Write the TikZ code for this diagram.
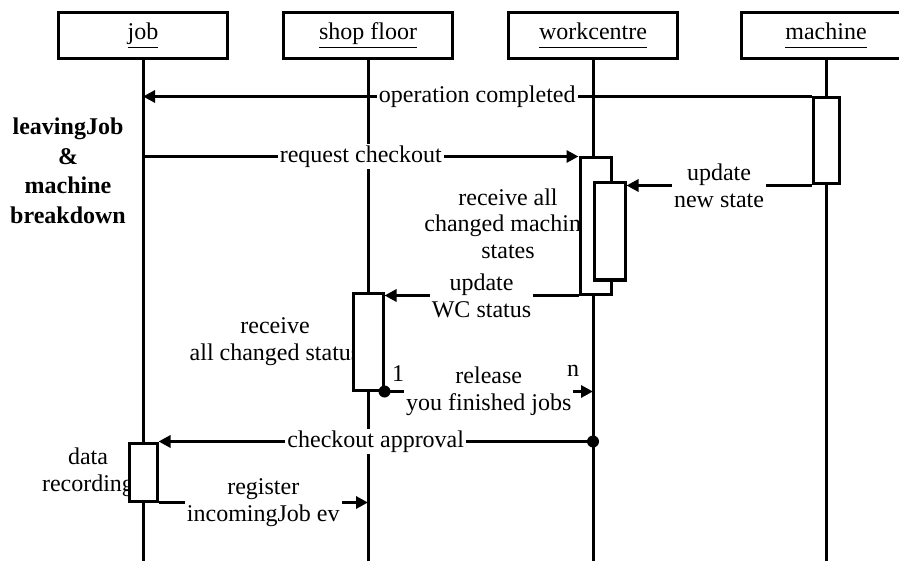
\documentclass[tikz,border=0pt]{standalone}
\usepackage{fontspec}
\setmainfont{Liberation Serif}
\usetikzlibrary{arrows.meta,positioning}
\newcommand{\objname}[1]{\underline{#1\vphantom{jpf}}}

\begin{document}
\begin{tikzpicture}[x=0.5pt,y=-0.5pt,
    obj/.style={draw,line width=1.5pt,minimum width=84.5pt,minimum height=23pt,
                font=\fontsize{12}{14}\selectfont},
    life/.style={line width=1.5pt},
    act/.style={draw,fill=white,line width=1.5pt,inner sep=0pt},
    msg/.style={line width=1.5pt,-{Triangle[length=6pt,width=6pt]}},
    lbl/.style={fill=white,inner sep=1pt,align=center,
                font=\fontsize{12}{13.5}\selectfont},
    txt/.style={inner sep=0pt,align=center,font=\fontsize{12}{13.3}\selectfont},
    dot/.style={circle,fill,inner sep=0pt,minimum size=6pt}
  ]
    \clip (0,0) rectangle (899,561);
    \fill[white] (0,0) rectangle (899,561);
    \coordinate (bottom) at (0,561);
    % objects and lifelines
    \node[obj] (job)  at (143,36) {\objname{job}};
    \node[obj] (shop) at (368,36) {\objname{shop floor}};
    \node[obj] (wc)   at (593,36) {\objname{workcentre}};
    \node[obj] (mach) at (826,36) {\objname{machine}};
    \foreach \o in {job,shop,wc,mach}
      \draw[life] (\o.south) -- (\o.south |- bottom);
    % notes
    \node[txt,font=\fontsize{12}{14.75}\selectfont\bfseries] (scen) at (68,171)
      {leavingJob\\\&\\machine\\breakdown};
    \node[txt] (rcvm) at (508,223.5) {receive all\\changed machine\\states};
    \node[txt,font=\fontsize{12}{13.5}\selectfont] (rcvs) at (275,341.5)
      {receive\\all changed status};
    \node[txt,font=\fontsize{12}{13.5}\selectfont] (drec) at (88,472.5)
      {data\\recording};
    % activations
    \node[act,minimum width=13pt,minimum height=43pt]     (mact)  at (826,141) {};
    \node[act,minimum width=15.5pt,minimum height=68pt]   (wcact) at (595.5,226) {};
    \node[act,minimum width=15.5pt,minimum height=48.5pt] (wcin)  at (609.5,231.5) {};
    \node[act,minimum width=15pt,minimum height=48.5pt]   (sact)  at (368,341.5) {};
    \node[act,minimum width=14pt,minimum height=29pt]     (jact)  at (143,472) {};
    % messages
    \draw[msg] (mact.north west) -- node[lbl]{operation completed}
      (mact.north west -| job.south);
    \draw[msg] (wcact.north west -| job.south) -- node[lbl]{request checkout}
      (wcact.north west);
    \draw[msg] (mact.south west) -- node[lbl]{update\\new state}
      (mact.south west -| wcin.east);
    \draw[msg] (wcact.south west) -- node[lbl]{update\\WC status}
      (wcact.south west -| sact.east);
    \node[dot] (rel) at (sact.south east) {};
    \draw[msg] (rel.center) -- node[lbl]{release\\you finished jobs}
      (rel.center -| wc.south);
    \node[font=\fontsize{12}{14}\selectfont,inner sep=0pt] (one) at (398,374) {1};
    \node[font=\fontsize{12}{14}\selectfont,inner sep=0pt] (enn) at (573,371) {n};
    \node[dot] (appr) at (jact.north east -| wc.south) {};
    \draw[msg] (appr.center) -- node[lbl]{checkout approval} (jact.north east);
    \draw[msg] (jact.south east) -- node[lbl]{register\\incomingJob ev}
      (jact.south east -| shop.south);
\end{tikzpicture}
\end{document}
